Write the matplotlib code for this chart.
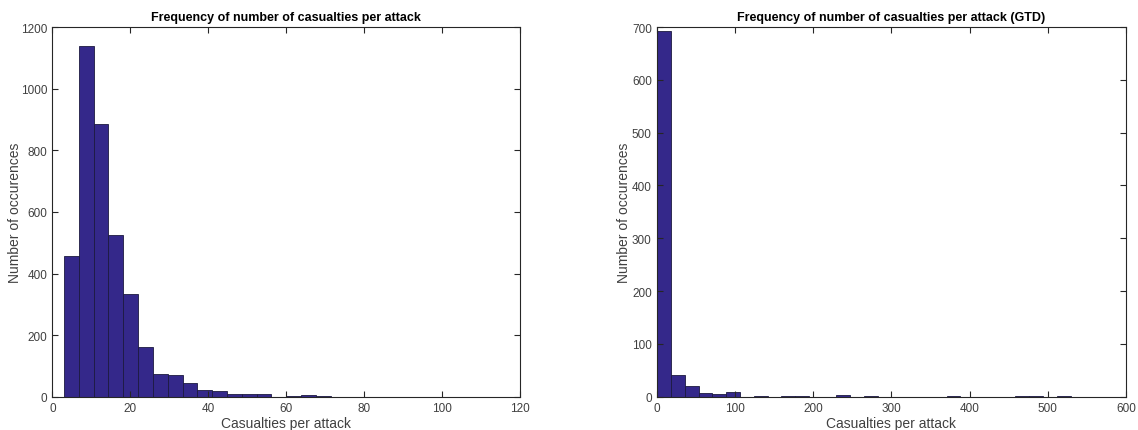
import numpy as np
import matplotlib.pyplot as plt

plt.rcParams["font.family"] = ["Liberation Sans", "DejaVu Sans"]

# left panel: 30 bins between 3 and 117
LEFT_RANGE = (3, 117)
LEFT_COUNTS = [456, 1138, 884, 524, 333, 163, 74, 72, 46, 22,
               18, 9, 9, 10, 0, 3, 5, 4, 0, 0,
               0, 1, 1, 0, 0, 1, 1, 0, 0, 1]

# right panel (GTD): 30 bins between 1 and 529
RIGHT_RANGE = (1, 529)
RIGHT_COUNTS = [693, 42, 21, 8, 6, 9, 0, 2, 0, 1,
                1, 0, 0, 3, 0, 2, 0, 0, 0, 0,
                0, 1, 0, 0, 0, 0, 1, 1, 0, 2]

BAR_COLOR = "#34288a"
EDGE_COLOR = "#1c1a40"


def draw_hist(ax, rng, counts, title, xlim, xticks, ylim, yticks, ypad):
    edges = np.linspace(rng[0], rng[1], len(counts) + 1)
    ax.bar(edges[:-1], counts, width=np.diff(edges), align="edge",
           color=BAR_COLOR, edgecolor=EDGE_COLOR, linewidth=0.6)
    ax.set_xlim(*xlim)
    ax.set_ylim(*ylim)
    ax.set_xticks(xticks)
    ax.set_yticks(yticks)
    ax.tick_params(direction="in", top=True, right=True, length=4,
                   width=0.8, labelsize=8.5, colors="#262626",
                   labelcolor="#404040")
    for sp in ax.spines.values():
        sp.set_color("#262626")
        sp.set_linewidth(0.8)
    ax.set_title(title, fontsize=9, fontweight="bold", pad=5)
    ax.set_xlabel("Casualties per attack", fontsize=10, color="#404040", labelpad=2)
    ax.set_ylabel("Number of occurences", fontsize=10, color="#404040", labelpad=ypad)


fig = plt.figure(figsize=(11.38, 4.31), dpi=100)
ax1 = fig.add_axes([0.046, 0.077, 0.411, 0.858])
ax2 = fig.add_axes([0.577, 0.077, 0.4125, 0.858])

draw_hist(ax1, LEFT_RANGE, LEFT_COUNTS,
          "Frequency of number of casualties per attack",
          (0, 120), np.arange(0, 121, 20), (0, 1200), np.arange(0, 1201, 200), -1)
draw_hist(ax2, RIGHT_RANGE, RIGHT_COUNTS,
          "Frequency of number of casualties per attack (GTD)",
          (0, 600), np.arange(0, 601, 100), (0, 700), np.arange(0, 701, 100), 1)

fig.savefig("out.png", dpi=100)
